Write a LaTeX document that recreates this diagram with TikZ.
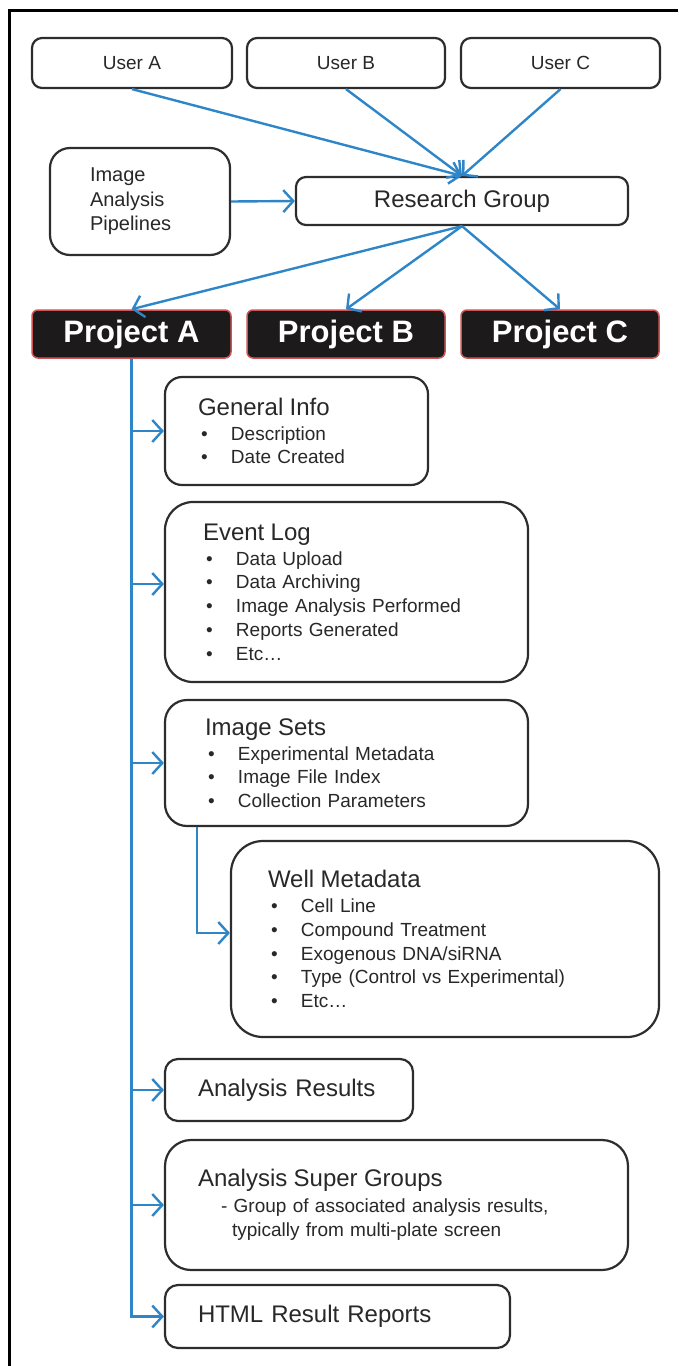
\documentclass[tikz,border=0pt]{standalone}
\usepackage{fontspec}
\setmainfont{Liberation Sans}
\usetikzlibrary{arrows.meta}
\definecolor{flowblue}{RGB}{46,134,200}
\definecolor{boxline}{RGB}{45,45,45}
\definecolor{projred}{RGB}{205,85,85}
\definecolor{projfill}{RGB}{28,26,26}
\definecolor{txt}{RGB}{40,40,40}
\newcommand{\bli}[1]{\hspace*{3pt}\makebox[30pt][l]{\textbullet}#1}
\newcommand{\tfnt}{\fontsize{24}{28}\selectfont}
\newcommand{\bfnt}{\fontsize{19}{23.7}\selectfont}
\begin{document}
\begin{tikzpicture}[x=1pt,y=-1pt,
  box/.style={draw=boxline, line width=2.2pt, fill=white, text=txt, rounded corners=#1},
  box/.default=12pt,
  userbox/.style={box=10pt, minimum width=199pt, minimum height=50pt, inner sep=0pt, font=\fontsize{19}{23}\selectfont},
  proj/.style={draw=projred, line width=1.5pt, fill=projfill, text=white, rounded corners=6pt,
    minimum width=199pt, minimum height=48pt, inner sep=0pt, font=\bfseries\fontsize{31}{36}\selectfont},
  listbox/.style={box=#1, inner ysep=0pt, align=left, font=\bfnt},
  flow/.style={draw=flowblue, line width=2.4pt, -{Straight Barb[length=10pt,width=22pt]}},
  frame/.style={draw=black, line width=3pt}
]
\path[use as bounding box] (0,0) rectangle (678,1366);
\draw[frame] (678,10) -- (9,10) -- (9,1366);

% top row
\node[userbox, minimum width=200pt] (ua) at (132,63) {User A};
\node[userbox, minimum width=198pt] (ub) at (346,63) {User B};
\node[userbox] (uc) at (560.5,63) {User C};

\node[box=20pt, minimum width=180pt, minimum height=107pt, text width=100pt, inner xsep=40pt, inner ysep=0pt,
  align=left, font=\fontsize{20}{24.5}\selectfont] (pip) at (140,201.5) {Image\\Analysis\\Pipelines};
\node[box=10pt, minimum width=332pt, minimum height=48pt, inner sep=0pt, font=\tfnt] (rg) at (462,201) {Research Group};

\node[proj] (pa) at (131.5,334) {Project A};
\node[proj, minimum width=198pt] (pb) at (346,334) {Project B};
\node[proj, minimum width=198pt] (pc) at (560,334) {Project C};

\draw[flow] (ua.south) -- (rg.north);
\draw[flow] (ub.south) -- (rg.north);
\draw[flow] (uc.south) -- (rg.north);
\draw[flow] (pip.east) -- (rg.west);
\draw[flow] (rg.south) -- (pa.north);
\draw[flow] (rg.south) -- (pb.north);
\draw[flow] (rg.south) -- (pc.north);

% project A contents
\node[listbox=17pt, minimum width=263pt, minimum height=108pt, text width=197pt, inner xsep=33pt] (gi) at (296.5,431)
  {{\tfnt General Info}\\[1.3pt]\bli{Description}\\\bli{Date Created}};
\node[listbox=28pt, minimum width=363pt, minimum height=180pt, text width=287pt, inner xsep=38pt] (el) at (346.5,592)
  {{\tfnt Event Log}\\[1.3pt]\bli{Data Upload}\\\bli{Data Archiving}\\\bli{Image Analysis Performed}\\\bli{Reports Generated}\\\bli{Etc\ldots}};
\node[listbox=22pt, minimum width=363pt, minimum height=126pt, text width=283pt, inner xsep=40pt] (is) at (346.5,763)
  {{\tfnt Image Sets}\\[1.3pt]\bli{Experimental Metadata}\\\bli{Image File Index}\\\bli{Collection Parameters}};
\node[listbox=32pt, minimum width=428pt, minimum height=196pt, text width=354pt, inner xsep=37pt] (wm) at (445,939)
  {{\tfnt Well Metadata}\\[1.3pt]\bli{Cell Line}\\\bli{Compound Treatment}\\\bli{Exogenous DNA/siRNA}\\\bli{Type (Control vs Experimental)}\\\bli{Etc\ldots}};
\node[listbox=13pt, minimum width=248pt, minimum height=62pt, text width=182pt, inner xsep=33pt, font=\tfnt] (ar) at (289,1090)
  {Analysis Results};
\node[listbox=26pt, minimum width=463pt, minimum height=130pt, text width=397pt, inner xsep=33pt] (sg) at (396.5,1205)
  {{\tfnt Analysis Super Groups}\\[2.5pt]\hspace*{23pt}- Group of associated analysis results,\\\hspace*{34pt}typically from multi-plate screen};
\node[listbox=13pt, minimum width=345pt, minimum height=63pt, text width=279pt, inner xsep=33pt, font=\tfnt] (html) at (337.5,1316.5)
  {HTML Result Reports};

\coordinate (elin) at ([yshift=8pt]el.west);
\coordinate (wmin) at ([yshift=6pt]wm.west);
\draw[flow] (pa.south) |- (html.west);
\draw[flow] (pa.south |- gi.west) -- (gi.west);
\draw[flow] (pa.south |- elin) -- (elin);
\draw[flow] (pa.south |- is.west) -- (is.west);
\draw[flow] (pa.south |- ar.west) -- (ar.west);
\draw[flow] (pa.south |- sg.west) -- (sg.west);
\draw[flow] ([xshift=33pt]is.south west) |- (wmin);
\end{tikzpicture}
\end{document}
